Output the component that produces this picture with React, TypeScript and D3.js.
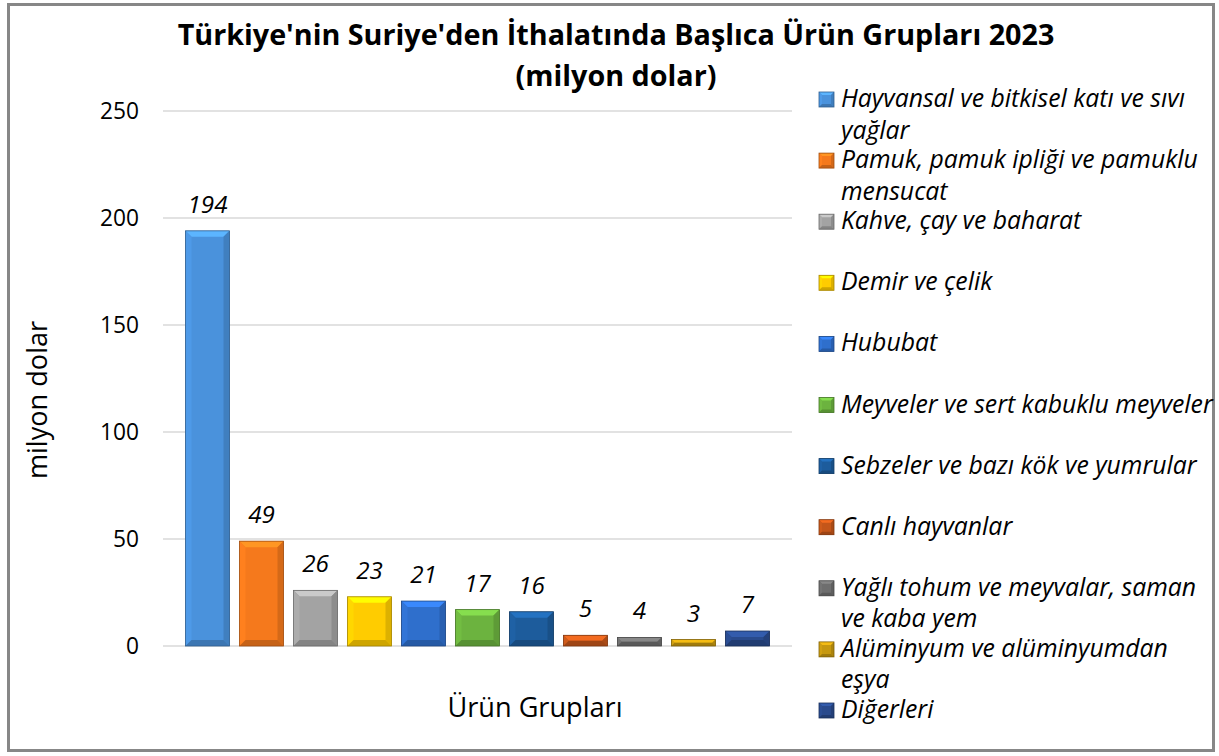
import React, { useRef, useEffect } from 'react';
import * as d3 from 'd3';

const categories = [
  'Hayvansal ve bitkisel katı ve sıvı yağlar',
  'Pamuk, pamuk ipliği ve pamuklu mensucat',
  'Kahve, çay ve baharat',
  'Demir ve çelik',
  'Hububat',
  'Meyveler ve sert kabuklu meyveler',
  'Sebzeler ve bazı kök ve yumrular',
  'Canlı hayvanlar',
  'Yağlı tohum ve meyvalar, saman ve kaba yem',
  'Alüminyum ve alüminyumdan eşya',
  'Diğerleri',
];
const values = [194, 49, 26, 23, 21, 17, 16, 5, 4, 3, 7];
// legend lines as wrapped in the original
const legendLines = [
  ['Hayvansal ve bitkisel katı ve sıvı', 'yağlar'],
  ['Pamuk, pamuk ipliği ve pamuklu', 'mensucat'],
  ['Kahve, çay ve baharat'],
  ['Demir ve çelik'],
  ['Hububat'],
  ['Meyveler ve sert kabuklu meyveler'],
  ['Sebzeler ve bazı kök ve yumrular'],
  ['Canlı hayvanlar'],
  ['Yağlı tohum ve meyvalar, saman', 've kaba yem'],
  ['Alüminyum ve alüminyumdan', 'eşya'],
  ['Diğerleri'],
];
const colors = [
  '#4a92dc', '#f5791c', '#a3a3a3', '#ffcc00', '#2f6fcc', '#6cb33f',
  '#1d5c9c', '#c4561a', '#6e6e6e', '#c6980f', '#294a8c',
];
const yTicks = [0, 50, 100, 150, 200, 250];

const FONT = '"Open Sans", sans-serif';

// draws a box with a bevelled frame like Excel's "3-D" bars
function bevelBox(g, x0, y0, w, h, color, size) {
  const x1 = x0 + w;
  const y1 = y0 + h;
  const b = Math.min(size, h / 2, w / 2);
  const c = d3.color(color);
  const pts = (arr) => arr.map((p) => p.join(',')).join(' ');
  g.append('rect').attr('x', x0).attr('y', y0).attr('width', w).attr('height', h)
    .attr('fill', color);
  g.append('polygon')
    .attr('points', pts([[x0, y0], [x1, y0], [x1 - b, y0 + b], [x0 + b, y0 + b]]))
    .attr('fill', c.brighter(0.6).formatHex());
  g.append('polygon')
    .attr('points', pts([[x0, y0], [x0 + b, y0 + b], [x0 + b, y1 - b], [x0, y1]]))
    .attr('fill', c.brighter(0.15).formatHex());
  g.append('polygon')
    .attr('points', pts([[x1, y0], [x1, y1], [x1 - b, y1 - b], [x1 - b, y0 + b]]))
    .attr('fill', c.darker(0.4).formatHex());
  g.append('polygon')
    .attr('points', pts([[x0, y1], [x0 + b, y1 - b], [x1 - b, y1 - b], [x1, y1]]))
    .attr('fill', c.darker(0.6).formatHex());
  g.append('rect').attr('x', x0).attr('y', y0).attr('width', w).attr('height', h)
    .attr('fill', 'none').attr('stroke', c.darker(1.2).formatHex()).attr('stroke-width', 0.8);
}

// font size that makes `str` about `target` px wide
function fitSize(svg, str, target, style) {
  const t = svg.append('text')
    .style('font-family', FONT).style('font-size', '20px')
    .style('font-weight', style.weight || 'normal')
    .style('font-style', style.italic ? 'italic' : 'normal')
    .text(str);
  const len = t.node().getComputedTextLength();
  t.remove();
  return len > 0 ? (20 * target) / len : 20;
}

const Chart = () => {
  const svgRef = useRef(null);

  useEffect(() => {
    const svg = d3.select(svgRef.current);
    svg.selectAll('*').remove();

    const width = 1219;
    const height = 756;

    const titleSize = fitSize(svg, "Türkiye'nin Suriye'den İthalatında Başlıca Ürün Grupları 2023", 877, { weight: 'bold' });
    const tickSize = fitSize(svg, '250', 39, {});
    const valueSize = fitSize(svg, '194', 40, { italic: true });
    const axisSize = fitSize(svg, 'Ürün Grupları', 175, {});
    const legendSize = fitSize(svg, 'Meyveler ve sert kabuklu meyveler', 372, { italic: true });

    svg.append('rect').attr('x', 0).attr('y', 0).attr('width', width).attr('height', height)
      .attr('fill', '#fff');
    svg.append('rect').attr('x', 8.5).attr('y', 4.5).attr('width', 1205).attr('height', 746)
      .attr('fill', 'none').attr('stroke', '#878787').attr('stroke-width', 3);

    const x = d3.scaleBand()
      .domain(categories)
      .range([163, 792])
      .paddingInner(0.185)
      .paddingOuter(0.417);

    const y = d3.scaleLinear().domain([0, 250]).range([646, 111]);

    // gridlines
    svg.append('g')
      .selectAll('line')
      .data(yTicks)
      .enter().append('line')
      .attr('x1', 163).attr('x2', 792)
      .attr('y1', (d) => y(d)).attr('y2', (d) => y(d))
      .attr('stroke', '#d9d9d9').attr('stroke-width', 1.3);

    // y tick labels
    svg.append('g')
      .selectAll('text')
      .data(yTicks)
      .enter().append('text')
      .attr('x', 139).attr('y', (d) => y(d))
      .attr('dy', '0.36em')
      .attr('text-anchor', 'end')
      .style('font-family', FONT).style('font-size', `${tickSize}px`).attr('fill', '#000')
      .text((d) => d);

    // bars
    const bars = svg.append('g');
    categories.forEach((c, i) => {
      const top = y(values[i]);
      bevelBox(bars, x(c), top, x.bandwidth(), y(0) - top, colors[i], 6);
    });

    // value labels
    svg.append('g')
      .selectAll('text')
      .data(categories)
      .enter().append('text')
      .attr('x', (d) => x(d) + x.bandwidth() / 2)
      .attr('y', (d, i) => y(values[i]) - 18)
      .attr('text-anchor', 'middle')
      .style('font-family', FONT).style('font-size', `${valueSize}px`).style('font-style', 'italic')
      .attr('fill', '#000')
      .text((d, i) => values[i]);

    // title
    const title = svg.append('text')
      .attr('text-anchor', 'middle')
      .style('font-family', FONT).style('font-size', `${titleSize}px`).style('font-weight', 'bold')
      .attr('fill', '#000');
    title.append('tspan').attr('x', 616).attr('y', 45)
      .text("Türkiye'nin Suriye'den İthalatında Başlıca Ürün Grupları 2023");
    title.append('tspan').attr('x', 616).attr('y', 86).text('(milyon dolar)');

    // axis titles
    svg.append('text')
      .attr('transform', 'translate(47,400) rotate(-90)')
      .attr('text-anchor', 'middle')
      .style('font-family', FONT).style('font-size', `${axisSize}px`)
      .text('milyon dolar');
    svg.append('text')
      .attr('x', 535).attr('y', 717)
      .attr('text-anchor', 'middle')
      .style('font-family', FONT).style('font-size', `${axisSize}px`)
      .text('Ürün Grupları');

    // legend
    const legend = svg.append('g');
    const rowStep = 61.1;
    legendLines.forEach((lines, i) => {
      const base = 107 + i * rowStep;
      bevelBox(legend, 819, base - 15, 15, 15, colors[i], 3);
      const t = legend.append('text')
        .style('font-family', FONT).style('font-size', `${legendSize}px`).style('font-style', 'italic')
        .attr('fill', '#000');
      lines.forEach((ln, j) => {
        t.append('tspan').attr('x', 841).attr('y', base + j * 31.5).text(ln);
      });
    });
  }, []);

  return <svg ref={svgRef} width={1219} height={756} style={{ position: 'absolute', left: 0, top: 0 }} />;
};

export default function App() {
  return <Chart />;
}
